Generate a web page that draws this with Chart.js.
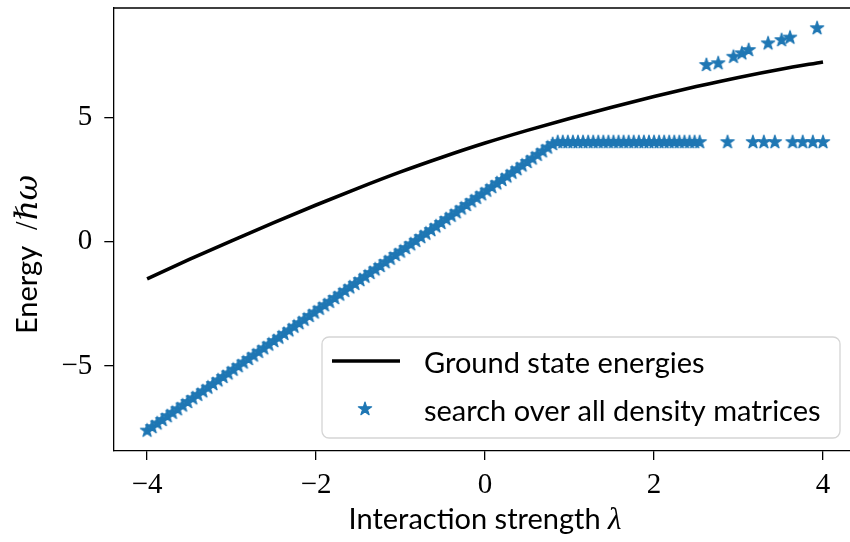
<!DOCTYPE html>
<html>
<head>
<meta charset="utf-8">
<script src="https://cdn.jsdelivr.net/npm/chart.js@4.4.1/dist/chart.umd.min.js"></script>
<style>
  html, body { margin: 0; padding: 0; background: #fff; overflow: hidden; }
  #wrap { width: 850px; height: 542px; overflow: hidden; }
</style>
</head>
<body>
<div id="wrap"><canvas id="chart" width="870" height="542"></canvas></div>
<script>
// ground state curve (solid black)
const groundLambda = [-4.0, -3.5, -3.0, -2.5, -2.0, -1.5, -1.0, -0.5, 0.0, 0.5, 1.0, 1.5, 2.0, 2.5, 3.0, 3.5, 4.0];
const groundEnergy = [-1.50, -0.72, 0.03, 0.76, 1.47, 2.15, 2.80, 3.40, 3.96, 4.47, 4.95, 5.40, 5.83, 6.23, 6.60, 6.93, 7.22];

// density matrix search (stars) - rising part
const diagLambda = [-4.00, -3.94, -3.88, -3.82, -3.76, -3.70, -3.64, -3.58, -3.52, -3.46,
  -3.40, -3.34, -3.28, -3.22, -3.16, -3.10, -3.04, -2.98, -2.92, -2.86,
  -2.80, -2.74, -2.68, -2.62, -2.56, -2.50, -2.44, -2.38, -2.32, -2.26,
  -2.20, -2.14, -2.08, -2.02, -1.96, -1.90, -1.84, -1.78, -1.72, -1.66,
  -1.60, -1.54, -1.48, -1.42, -1.36, -1.30, -1.24, -1.18, -1.12, -1.06,
  -1.00, -0.94, -0.88, -0.82, -0.76, -0.70, -0.64, -0.58, -0.52, -0.46,
  -0.40, -0.34, -0.28, -0.22, -0.16, -0.10, -0.04, 0.02, 0.08, 0.14,
  0.20, 0.26, 0.32, 0.38, 0.44, 0.50, 0.56, 0.62, 0.68, 0.74,
  0.80];
const diagEnergy = [-7.60, -7.46, -7.31, -7.17, -7.02, -6.88, -6.74, -6.59, -6.45, -6.30,
  -6.16, -6.02, -5.87, -5.73, -5.58, -5.44, -5.30, -5.15, -5.01, -4.86,
  -4.72, -4.58, -4.43, -4.29, -4.14, -4.00, -3.86, -3.71, -3.57, -3.42,
  -3.28, -3.14, -2.99, -2.85, -2.70, -2.56, -2.42, -2.27, -2.13, -1.98,
  -1.84, -1.70, -1.55, -1.41, -1.26, -1.12, -0.98, -0.83, -0.69, -0.54,
  -0.40, -0.26, -0.11, 0.03, 0.18, 0.32, 0.46, 0.61, 0.75, 0.90,
  1.04, 1.18, 1.33, 1.47, 1.62, 1.76, 1.90, 2.05, 2.19, 2.34,
  2.48, 2.62, 2.77, 2.91, 3.06, 3.20, 3.34, 3.49, 3.63, 3.78,
  3.92];

// plateau at 4 (continuous run, then isolated stars)
const plateauLambda = [0.86, 0.92, 0.98, 1.04, 1.10, 1.16, 1.22, 1.28, 1.34, 1.40,
  1.46, 1.52, 1.58, 1.64, 1.70, 1.76, 1.82, 1.88, 1.94, 2.00,
  2.06, 2.12, 2.18, 2.24, 2.30, 2.36, 2.42, 2.48, 2.54,
  2.87, 3.17, 3.30, 3.43, 3.64, 3.76, 3.88, 4.00];
const plateauEnergy = [4.00, 4.00, 4.00, 4.00, 4.00, 4.00, 4.00, 4.00, 4.00, 4.00,
  4.00, 4.00, 4.00, 4.00, 4.00, 4.00, 4.00, 4.00, 4.00, 4.00,
  4.00, 4.00, 4.00, 4.00, 4.00, 4.00, 4.00, 4.00, 4.00,
  4.00, 4.00, 4.00, 4.00, 4.00, 4.00, 4.00, 4.00];

// upper branch
const upperLambda = [2.62, 2.76, 2.94, 3.04, 3.12, 3.35, 3.51, 3.61, 3.93];
const upperEnergy = [7.10, 7.17, 7.43, 7.57, 7.70, 7.97, 8.10, 8.20, 8.58];

// axis ticks
const xTicks = [-4, -2, 0, 2, 4];
const yTicks = [-5, 0, 5];

const seriesLabels = ['Ground state energies', 'search over all density matrices'];

const STAR_BLUE = '#1f77b4';
const SANS = 'Lato';
const SERIF = '"Liberation Serif"';

// filled five-point star like matplotlib's '*' marker
function makeStar(radius, color) {
    const size = 2 * Math.ceil(radius + 2);
    const c = document.createElement('canvas');
    c.width = size;
    c.height = size;
    const g = c.getContext('2d');
    const cx = size / 2, cy = size / 2;
    g.beginPath();
    for (let i = 0; i < 10; i++) {
        const r = i % 2 === 0 ? radius : radius * 0.381966;
        const a = -Math.PI / 2 + i * Math.PI / 5;
        const px = cx + r * Math.cos(a), py = cy + r * Math.sin(a);
        if (i === 0) g.moveTo(px, py); else g.lineTo(px, py);
    }
    g.closePath();
    g.fillStyle = color;
    g.fill();
    g.lineWidth = 1.2;
    g.lineJoin = 'round';
    g.strokeStyle = color;
    g.stroke();
    return c;
}
const starImg = makeStar(7, STAR_BLUE);

function toPoints(xs, ys) {
    return xs.map((x, i) => ({ x: x, y: ys[i] }));
}

function minusSign(v) {
    return v < 0 ? '\u2212' + Math.abs(v) : String(v);
}

// draws a run of text pieces with different fonts, starting at (x, y)
function drawPieces(ctx, pieces, x, y) {
    let cx = x;
    pieces.forEach(p => {
        ctx.font = p.font;
        ctx.fillText(p.text, cx, y);
        cx += ctx.measureText(p.text).width + (p.gap || 0);
    });
}
function piecesWidth(ctx, pieces) {
    let w = 0;
    pieces.forEach(p => { ctx.font = p.font; w += ctx.measureText(p.text).width + (p.gap || 0); });
    return w;
}

// frame line on top, axis titles and the legend box
const decorations = {
    id: 'decorations',
    afterDraw(chart) {
        const ctx = chart.ctx;
        const a = chart.chartArea;
        ctx.save();
        ctx.strokeStyle = '#000';
        ctx.lineWidth = 1.3;
        ctx.beginPath();
        ctx.moveTo(a.left, a.top);
        ctx.lineTo(a.right, a.top);
        ctx.lineTo(a.right, a.bottom);
        ctx.stroke();

        ctx.fillStyle = '#000';
        ctx.textBaseline = 'alphabetic';
        ctx.textAlign = 'left';

        // x title
        const xPieces = [
            { text: 'Interaction strength ', font: '29px ' + SANS },
            { text: '\u03bb', font: 'italic 31px ' + SERIF }
        ];
        const xw = piecesWidth(ctx, xPieces);
        drawPieces(ctx, xPieces, (a.left + a.right) / 2 - xw / 2, 529);

        // y title
        const yPieces = [
            { text: 'Energy', font: '29px ' + SANS, gap: 16 },
            { text: '/', font: '31px ' + SERIF, gap: 1 },
            { text: '\u210f\u03c9', font: 'italic 31px "DejaVu Serif"' }
        ];
        ctx.save();
        ctx.translate(37, 334);
        ctx.rotate(-Math.PI / 2);
        drawPieces(ctx, yPieces, 0, 0);
        ctx.restore();

        // legend
        const bx = 322, by = 337, bw = 518, bh = 101, r = 7;
        ctx.beginPath();
        ctx.moveTo(bx + r, by);
        ctx.arcTo(bx + bw, by, bx + bw, by + bh, r);
        ctx.arcTo(bx + bw, by + bh, bx, by + bh, r);
        ctx.arcTo(bx, by + bh, bx, by, r);
        ctx.arcTo(bx, by, bx + bw, by, r);
        ctx.closePath();
        ctx.fillStyle = 'rgba(255,255,255,0.8)';
        ctx.fill();
        ctx.strokeStyle = '#d5d5d5';
        ctx.lineWidth = 1.3;
        ctx.stroke();

        ctx.strokeStyle = '#000';
        ctx.lineWidth = 3.6;
        ctx.beginPath();
        ctx.moveTo(332, 361);
        ctx.lineTo(400, 361);
        ctx.stroke();
        ctx.drawImage(starImg, 365 - starImg.width / 2, 409 - starImg.height / 2);

        ctx.fillStyle = '#000';
        ctx.font = '29px ' + SANS;
        ctx.fillText(chart.data.datasets[0].label, 424, 373);
        ctx.fillText(chart.data.datasets[1].label, 424, 421);
        ctx.restore();
    }
};

function fixScale(width, height) {
    return function (scale) {
        if (width !== null) scale.width = width;
        if (height !== null) scale.height = height;
        scale.paddingTop = 0;
        scale.paddingBottom = 0;
        scale.paddingLeft = 0;
        scale.paddingRight = 0;
    };
}

const ctx = document.getElementById('chart').getContext('2d');
new Chart(ctx, {
    type: 'scatter',
    data: {
        datasets: [{
            label: seriesLabels[0],
            data: toPoints(groundLambda, groundEnergy),
            showLine: true,
            borderColor: '#000',
            borderWidth: 3.6,
            pointRadius: 0,
            cubicInterpolationMode: 'monotone',
            order: 1
        }, {
            label: seriesLabels[1],
            data: toPoints(diagLambda, diagEnergy)
                .concat(toPoints(plateauLambda, plateauEnergy))
                .concat(toPoints(upperLambda, upperEnergy)),
            showLine: false,
            pointStyle: starImg,
            pointRadius: 7,
            backgroundColor: STAR_BLUE,
            borderColor: STAR_BLUE,
            order: 0
        }]
    },
    options: {
        responsive: false,
        devicePixelRatio: 1,
        animation: false,
        layout: { padding: { left: 0, right: 13.2, top: 7.3, bottom: 0 } },
        plugins: {
            legend: { display: false },
            tooltip: { enabled: false }
        },
        scales: {
            x: {
                type: 'linear',
                min: -4.4,
                max: 4.4,
                afterBuildTicks: s => { s.ticks = xTicks.map(v => ({ value: v })); },
                afterFit: fixScale(null, 91),
                border: { display: true, color: '#000', width: 1.3 },
                grid: { drawOnChartArea: false, drawTicks: true, tickLength: 9, color: '#000', lineWidth: 1.3 },
                ticks: {
                    color: '#000',
                    padding: 8,
                    maxRotation: 0,
                    font: { family: 'Liberation Serif', size: 29 },
                    callback: v => minusSign(v)
                }
            },
            y: {
                type: 'linear',
                min: -8.42,
                max: 9.39,
                afterBuildTicks: s => { s.ticks = yTicks.map(v => ({ value: v })); },
                afterFit: fixScale(113.3, null),
                border: { display: true, color: '#000', width: 1.3 },
                grid: { drawOnChartArea: false, drawTicks: true, tickLength: 9, color: '#000', lineWidth: 1.3 },
                ticks: {
                    color: '#000',
                    padding: 12,
                    font: { family: 'Liberation Serif', size: 29 },
                    callback: v => minusSign(v)
                }
            }
        }
    },
    plugins: [decorations]
});
</script>
</body>
</html>
